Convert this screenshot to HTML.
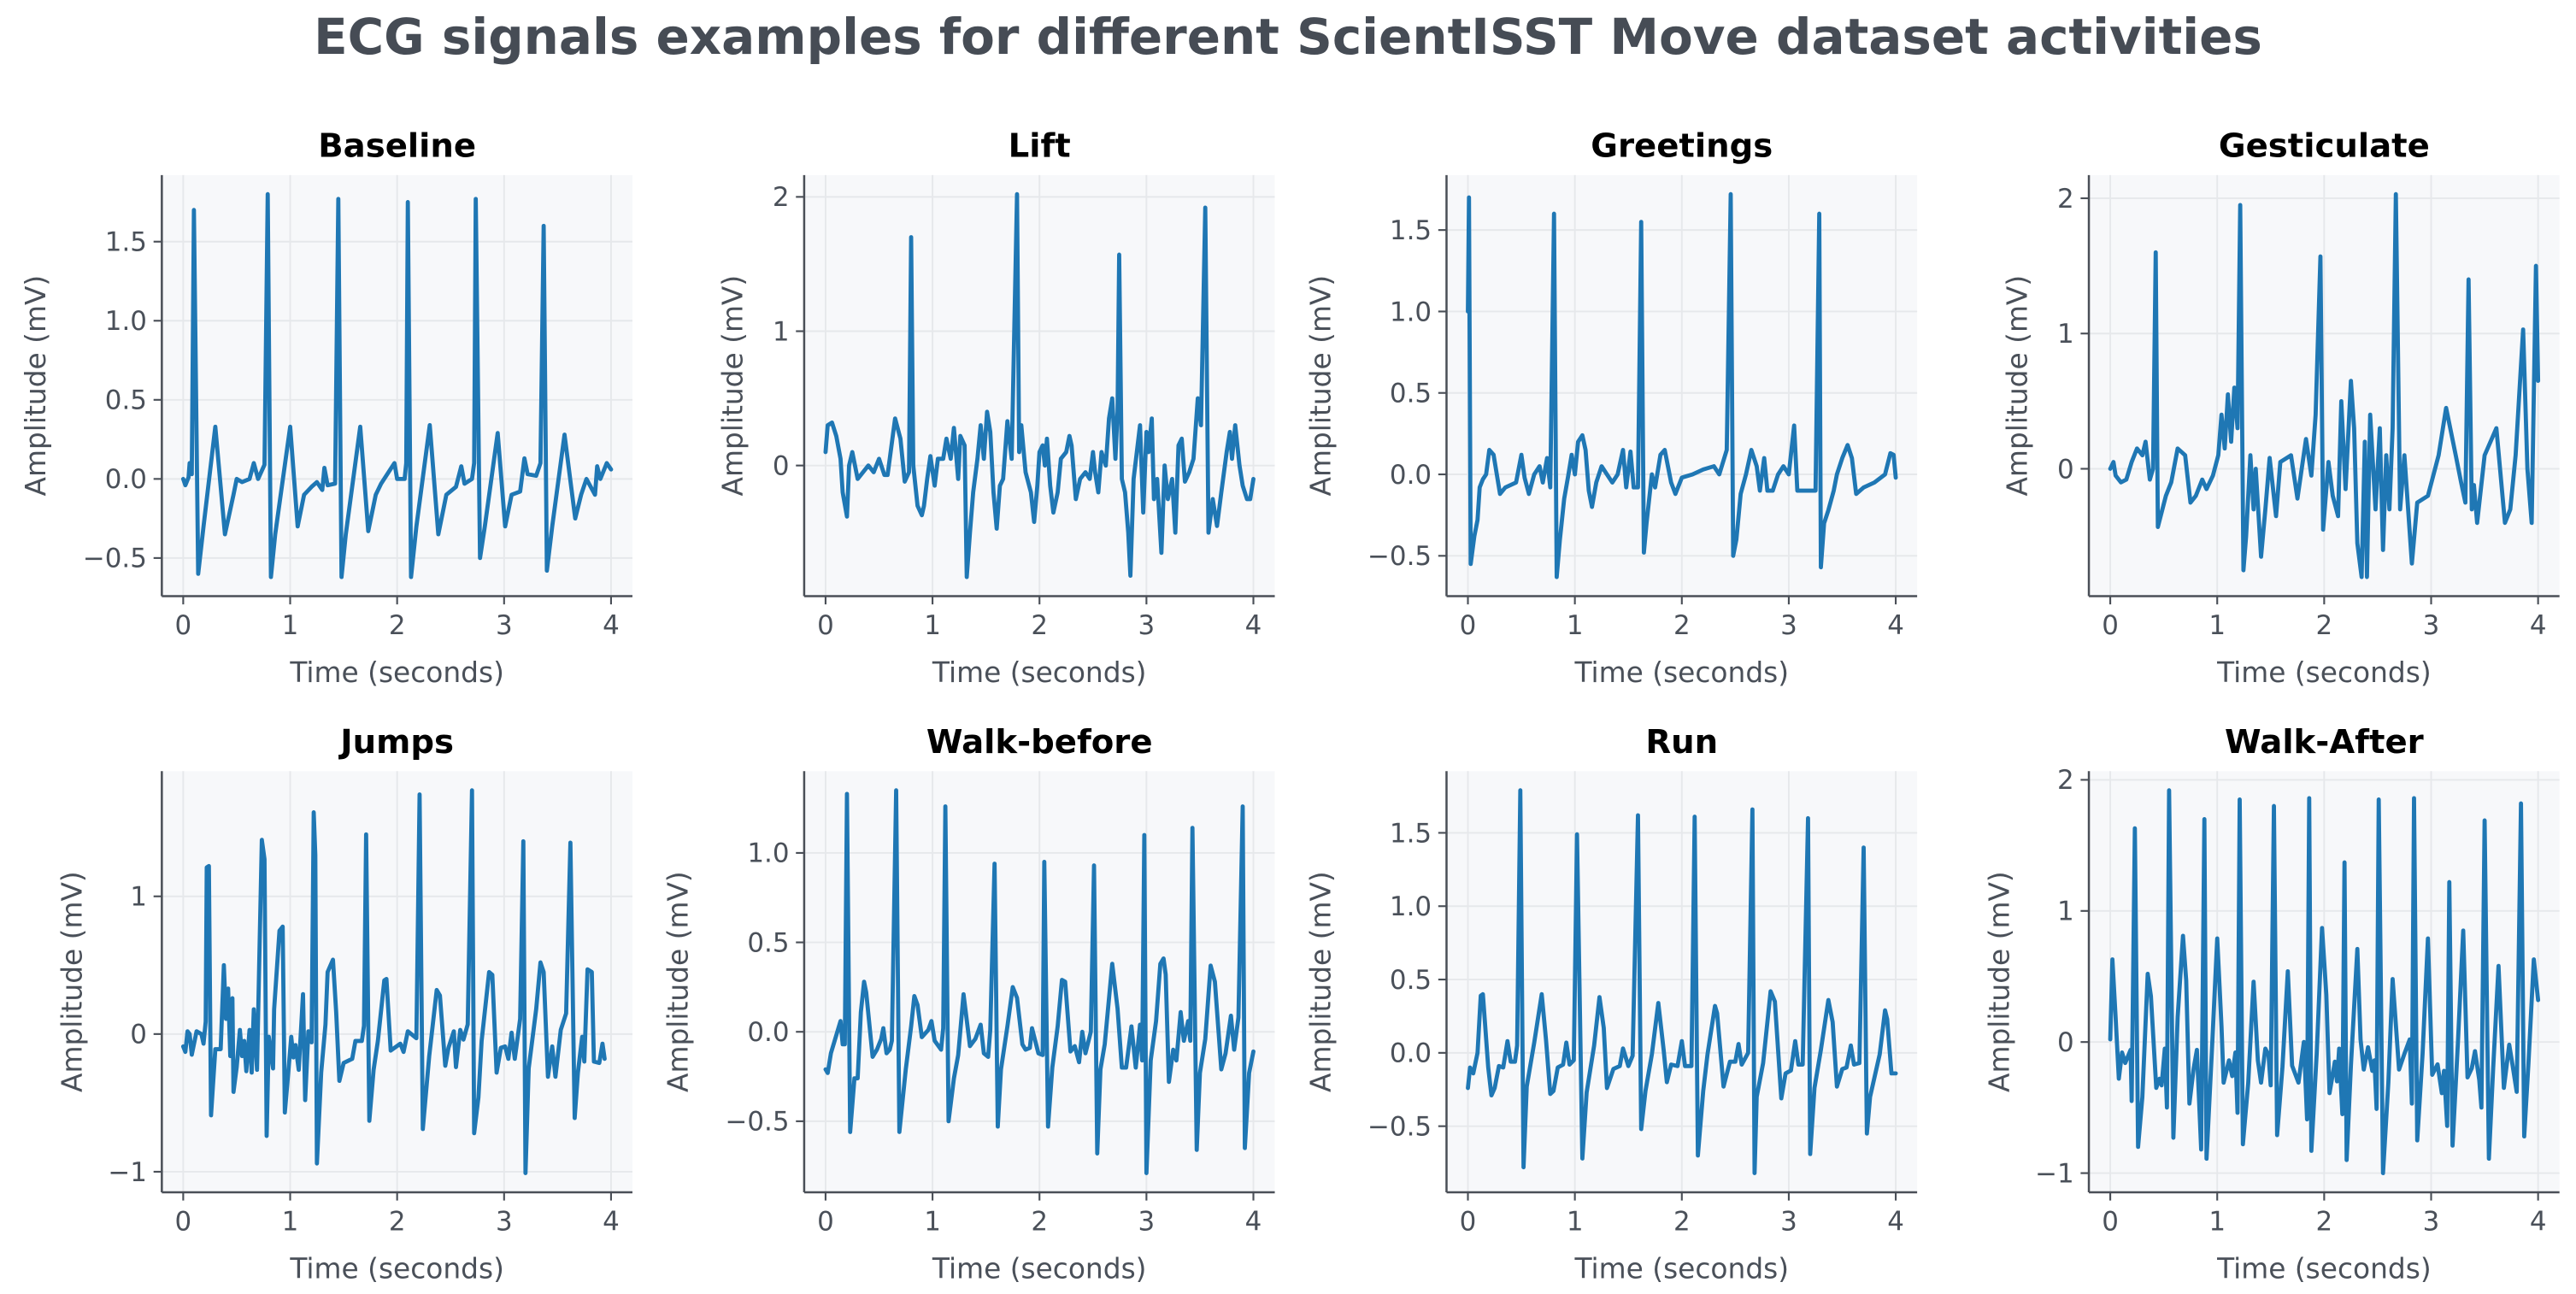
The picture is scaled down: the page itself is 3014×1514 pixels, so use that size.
<!DOCTYPE html>
<html>
<head>
<meta charset="utf-8">
<style>
  html,body{margin:0;padding:0;background:#ffffff;}
  svg{display:block;}
  text{font-family:"DejaVu Sans","Liberation Sans",sans-serif;}
</style>
</head>
<body>
<svg id="fig" xmlns="http://www.w3.org/2000/svg" width="3014" height="1514" viewBox="0 0 1560 783.6">
  <rect x="0" y="0" width="1560" height="783.6" fill="#ffffff"/>
  <text x="780" y="32.5" text-anchor="middle" font-size="30" font-weight="bold" fill="#464c55" textLength="1180" lengthAdjust="spacingAndGlyphs">ECG signals examples for different ScientISST Move dataset activities</text>
  <g id="panels"></g>
</svg>
<script>
// ---------- data ----------
const panelTitles = ["Baseline","Lift","Greetings","Gesticulate","Jumps","Walk-before","Run","Walk-After"];

const xTicks = [0,1,2,3,4];

const baselineTime = [0,0.02,0.05,0.06,0.08,0.10,0.14,0.19,0.30,0.39,0.47,0.50,0.55,0.62,0.66,0.70,0.76,0.79,0.82,0.86,1.00,1.07,1.13,1.20,1.25,1.30,1.32,1.35,1.42,1.45,1.48,1.52,1.655,1.73,1.80,1.85,1.975,2.00,2.07,2.085,2.10,2.13,2.18,2.305,2.385,2.46,2.55,2.60,2.63,2.70,2.72,2.735,2.775,2.82,2.94,3.01,3.07,3.15,3.19,3.22,3.30,3.34,3.37,3.40,3.45,3.565,3.665,3.72,3.77,3.85,3.87,3.90,3.96,4.00];
const baselineMv   = [0,-0.04,0.01,0.1,0.03,1.7,-0.6,-0.3,0.33,-0.35,-0.1,0.0,-0.02,0.0,0.1,0.0,0.09,1.8,-0.62,-0.35,0.33,-0.3,-0.1,-0.05,-0.02,-0.07,0.07,-0.04,-0.03,1.77,-0.62,-0.35,0.33,-0.33,-0.1,-0.03,0.1,0.0,0.0,0.1,1.75,-0.62,-0.3,0.34,-0.35,-0.1,-0.05,0.08,-0.03,0.0,0.1,1.77,-0.5,-0.3,0.29,-0.3,-0.1,-0.08,0.13,0.03,0.02,0.1,1.6,-0.58,-0.3,0.28,-0.25,-0.1,0.0,-0.1,0.08,0.0,0.1,0.06];
const baselineTicks = [-0.5,0,0.5,1,1.5];

const liftTime = [0,0.02,0.06,0.1,0.14,0.16,0.2,0.22,0.25,0.3,0.35,0.4,0.45,0.5,0.55,0.58,0.65,0.7,0.74,0.78,0.8,0.82,0.86,0.9,0.92,0.95,0.98,1.02,1.05,1.1,1.13,1.17,1.2,1.24,1.26,1.3,1.32,1.35,1.38,1.42,1.45,1.48,1.51,1.54,1.57,1.6,1.63,1.66,1.7,1.74,1.79,1.81,1.83,1.87,1.92,1.95,1.98,2.0,2.03,2.05,2.07,2.1,2.13,2.17,2.2,2.25,2.28,2.3,2.34,2.38,2.43,2.47,2.5,2.52,2.55,2.58,2.62,2.65,2.68,2.71,2.73,2.745,2.77,2.8,2.83,2.85,2.88,2.94,2.97,3.0,3.02,3.05,3.07,3.1,3.14,3.17,3.2,3.24,3.27,3.3,3.33,3.36,3.4,3.44,3.48,3.51,3.55,3.58,3.62,3.66,3.7,3.75,3.78,3.8,3.83,3.87,3.9,3.94,3.97,4.0];
const liftMv   = [0.1,0.3,0.32,0.22,0.05,-0.2,-0.38,0.0,0.1,-0.1,-0.05,0.0,-0.05,0.05,-0.07,-0.07,0.35,0.2,-0.12,-0.05,1.7,0.0,-0.3,-0.37,-0.3,-0.1,0.07,-0.15,0.05,0.05,0.2,0.05,0.28,-0.1,0.22,0.15,-0.83,-0.5,-0.2,0.05,0.3,0.05,0.4,0.25,-0.2,-0.47,-0.15,-0.1,0.33,0.05,2.02,0.1,0.3,-0.05,-0.2,-0.42,-0.15,0.1,0.15,0.0,0.2,-0.15,-0.35,-0.2,0.05,0.1,0.22,0.15,-0.25,-0.1,-0.05,-0.1,0.1,-0.05,-0.2,0.1,0.0,0.35,0.5,0.05,0.4,1.57,-0.1,-0.2,-0.5,-0.82,-0.1,0.3,-0.35,0.25,0.1,0.35,-0.25,-0.1,-0.65,0.0,-0.25,-0.1,-0.5,0.15,0.2,-0.12,-0.05,0.05,0.5,0.3,1.92,-0.5,-0.25,-0.45,-0.2,0.1,0.25,0.05,0.3,0.0,-0.15,-0.25,-0.25,-0.1];
const liftTicks = [0,1,2];

const greetingsTime = [0,0.01,0.026,0.06,0.09,0.11,0.14,0.17,0.2,0.24,0.3,0.35,0.45,0.5,0.53,0.57,0.62,0.67,0.7,0.74,0.77,0.805,0.83,0.86,0.9,0.94,0.97,1.0,1.03,1.07,1.1,1.13,1.16,1.2,1.25,1.3,1.35,1.4,1.45,1.48,1.52,1.55,1.59,1.62,1.645,1.67,1.72,1.75,1.8,1.84,1.87,1.9,1.94,2.0,2.1,2.2,2.3,2.35,2.42,2.457,2.48,2.51,2.55,2.6,2.65,2.7,2.73,2.77,2.8,2.85,2.9,2.95,3.0,3.05,3.08,3.25,3.285,3.3,3.33,3.37,3.42,3.45,3.5,3.55,3.59,3.63,3.7,3.8,3.9,3.95,3.98,4.0];
const greetingsMv   = [1.0,1.7,-0.55,-0.38,-0.28,-0.08,-0.03,0.0,0.15,0.12,-0.12,-0.08,-0.05,0.12,-0.02,-0.12,0.0,0.05,-0.05,0.1,-0.08,1.6,-0.63,-0.4,-0.15,0.0,0.12,0.0,0.2,0.24,0.15,-0.1,-0.2,-0.05,0.05,0.0,-0.05,0.0,0.15,-0.08,0.14,-0.08,-0.08,1.55,-0.48,-0.3,0.0,-0.08,0.12,0.15,0.05,-0.05,-0.12,-0.02,0.0,0.03,0.05,0.0,0.15,1.72,-0.5,-0.4,-0.12,0.0,0.15,0.05,-0.1,0.1,-0.1,-0.1,0.0,0.05,0.0,0.3,-0.1,-0.1,1.6,-0.57,-0.3,-0.22,-0.1,0.0,0.1,0.18,0.1,-0.12,-0.08,-0.05,0.0,0.13,0.12,-0.02];
const greetingsTicks = [-0.5,0,0.5,1,1.5];

const gesticulateTime = [0,0.03,0.05,0.1,0.15,0.2,0.25,0.3,0.33,0.37,0.4,0.425,0.445,0.52,0.57,0.63,0.7,0.75,0.8,0.86,0.9,0.96,1.01,1.04,1.07,1.1,1.13,1.16,1.19,1.215,1.245,1.27,1.31,1.34,1.36,1.41,1.45,1.49,1.55,1.59,1.69,1.75,1.83,1.88,1.92,1.965,1.99,2.04,2.08,2.13,2.16,2.2,2.25,2.28,2.31,2.35,2.38,2.4,2.43,2.48,2.52,2.55,2.58,2.61,2.64,2.67,2.71,2.75,2.82,2.87,2.97,3.07,3.14,3.23,3.28,3.32,3.35,3.38,3.40,3.43,3.5,3.61,3.69,3.74,3.79,3.86,3.9,3.94,3.98,4.0];
const gesticulateMv   = [0.0,0.05,-0.05,-0.1,-0.08,0.05,0.15,0.1,0.2,-0.08,0.0,1.6,-0.43,-0.2,-0.1,0.15,0.1,-0.25,-0.2,-0.08,-0.15,-0.05,0.1,0.4,0.15,0.55,0.2,0.6,0.3,1.95,-0.75,-0.5,0.1,-0.3,0.0,-0.65,-0.3,0.08,-0.35,0.05,0.1,-0.22,0.22,-0.05,0.4,1.57,-0.45,0.05,-0.2,-0.35,0.5,-0.15,0.65,0.3,-0.55,-0.8,0.2,-0.8,0.4,-0.3,0.3,-0.6,0.1,-0.3,0.3,2.03,-0.3,0.1,-0.7,-0.25,-0.2,0.1,0.45,0.1,-0.1,-0.25,1.4,-0.3,-0.12,-0.4,0.1,0.3,-0.4,-0.3,0.1,1.03,0.0,-0.4,1.5,0.65];
const gesticulateTicks = [0,1,2];

const jumpsTime = [0,0.02,0.04,0.06,0.08,0.125,0.17,0.19,0.21,0.22,0.24,0.26,0.3,0.35,0.38,0.4,0.42,0.44,0.46,0.47,0.5,0.53,0.55,0.57,0.59,0.62,0.64,0.66,0.69,0.71,0.735,0.76,0.78,0.8,0.84,0.85,0.9,0.93,0.95,0.98,1.01,1.03,1.05,1.08,1.12,1.14,1.17,1.2,1.22,1.235,1.25,1.29,1.33,1.35,1.4,1.43,1.46,1.5,1.58,1.61,1.67,1.69,1.71,1.74,1.78,1.82,1.88,1.9,1.94,2.03,2.06,2.1,2.18,2.21,2.24,2.3,2.37,2.4,2.45,2.48,2.53,2.55,2.59,2.62,2.66,2.7,2.72,2.76,2.79,2.86,2.89,2.93,2.97,3.01,3.04,3.07,3.1,3.15,3.18,3.2,3.23,3.3,3.34,3.37,3.41,3.45,3.48,3.53,3.58,3.62,3.66,3.69,3.73,3.75,3.78,3.82,3.84,3.89,3.92,3.94,4.0];
const jumpsMv   = [-0.09,-0.13,0.02,0.0,-0.15,0.02,0.0,-0.07,0.09,1.21,1.22,-0.59,-0.11,-0.11,0.5,0.11,0.33,-0.16,0.26,-0.42,-0.24,0.03,-0.16,-0.05,-0.27,0.03,-0.28,0.18,-0.26,0.49,1.41,1.27,-0.74,-0.02,-0.25,0.18,0.75,0.78,-0.57,-0.3,-0.02,-0.17,-0.08,-0.26,0.29,-0.48,0.02,-0.06,1.61,1.3,-0.94,-0.28,0.07,0.45,0.54,0.16,-0.34,-0.21,-0.18,-0.05,-0.05,0.06,1.45,-0.63,-0.26,-0.05,0.39,0.4,-0.12,-0.07,-0.13,0.02,-0.03,1.74,-0.69,-0.16,0.32,0.28,-0.23,-0.1,0.02,-0.24,0.03,-0.04,0.07,1.77,-0.72,-0.46,-0.05,0.45,0.43,-0.28,-0.1,-0.09,-0.18,0.01,-0.18,0.11,1.4,-1.01,-0.25,0.18,0.52,0.45,-0.31,-0.09,-0.31,0.03,0.15,1.39,-0.61,-0.28,-0.02,-0.2,0.47,0.45,-0.2,-0.21,-0.07,-0.18];
const jumpsTicks = [-1,0,1];

const walkBeforeTime = [0,0.02,0.05,0.11,0.14,0.16,0.18,0.2,0.23,0.27,0.3,0.33,0.36,0.38,0.44,0.48,0.52,0.54,0.57,0.6,0.62,0.66,0.69,0.75,0.8,0.83,0.86,0.9,0.96,0.99,1.02,1.08,1.1,1.12,1.15,1.2,1.24,1.29,1.35,1.4,1.45,1.48,1.52,1.54,1.58,1.61,1.64,1.7,1.75,1.79,1.84,1.87,1.91,1.93,1.99,2.03,2.045,2.08,2.12,2.17,2.21,2.24,2.29,2.33,2.37,2.4,2.43,2.48,2.51,2.54,2.57,2.61,2.68,2.73,2.77,2.81,2.86,2.9,2.94,2.96,2.98,3.0,3.04,3.09,3.13,3.16,3.18,3.21,3.25,3.28,3.32,3.35,3.39,3.41,3.43,3.47,3.5,3.55,3.6,3.64,3.7,3.74,3.79,3.82,3.86,3.9,3.92,3.96,4.0];
const walkBeforeMv   = [-0.21,-0.23,-0.12,0.0,0.06,-0.07,-0.07,1.33,-0.56,-0.26,-0.26,0.11,0.28,0.22,-0.14,-0.1,-0.04,0.02,-0.12,-0.1,-0.05,1.35,-0.56,-0.21,0.03,0.2,0.15,-0.03,0.01,0.06,-0.05,-0.1,0.02,1.26,-0.5,-0.26,-0.13,0.21,-0.08,-0.04,0.04,-0.12,-0.14,0.01,0.94,-0.53,-0.21,0.03,0.25,0.19,-0.07,-0.1,-0.09,0.02,-0.12,-0.13,0.95,-0.53,-0.2,0.03,0.29,0.28,-0.11,-0.08,-0.17,0.0,-0.12,0.0,0.93,-0.68,-0.21,-0.07,0.38,0.13,-0.2,-0.2,0.03,-0.2,0.04,-0.16,1.1,-0.79,-0.16,0.06,0.38,0.41,0.32,-0.28,-0.1,-0.16,0.11,-0.05,0.06,-0.05,1.14,-0.66,-0.23,-0.04,0.37,0.28,-0.21,-0.12,0.09,-0.1,0.08,1.26,-0.65,-0.23,-0.11];
const walkBeforeTicks = [-0.5,0,0.5,1];

const runTime = [0,0.02,0.05,0.09,0.12,0.14,0.19,0.22,0.25,0.29,0.33,0.37,0.4,0.44,0.46,0.49,0.52,0.55,0.62,0.69,0.73,0.77,0.8,0.84,0.89,0.92,0.95,0.99,1.02,1.07,1.11,1.18,1.23,1.27,1.3,1.36,1.42,1.45,1.5,1.54,1.59,1.62,1.66,1.72,1.78,1.83,1.86,1.9,1.96,2.0,2.03,2.09,2.12,2.15,2.2,2.24,2.31,2.33,2.39,2.45,2.5,2.53,2.56,2.62,2.66,2.68,2.7,2.76,2.83,2.87,2.93,2.97,3.02,3.06,3.09,3.13,3.18,3.2,3.24,3.3,3.37,3.41,3.45,3.5,3.54,3.58,3.61,3.66,3.7,3.73,3.76,3.85,3.9,3.92,3.96,4.0];
const runMv   = [-0.24,-0.1,-0.14,0.0,0.39,0.4,-0.1,-0.29,-0.24,-0.09,-0.1,0.08,-0.06,-0.06,0.05,1.79,-0.78,-0.23,0.07,0.4,0.09,-0.28,-0.26,-0.1,-0.08,0.07,-0.08,-0.05,1.49,-0.72,-0.27,0.05,0.38,0.17,-0.24,-0.11,-0.09,0.03,-0.09,-0.02,1.62,-0.52,-0.26,-0.01,0.34,0.02,-0.2,-0.08,-0.09,0.08,-0.09,-0.09,1.61,-0.7,-0.26,-0.01,0.32,0.27,-0.23,-0.06,-0.06,0.06,-0.08,0.0,1.66,-0.82,-0.3,-0.07,0.42,0.35,-0.31,-0.14,-0.12,0.08,-0.08,-0.08,1.6,-0.69,-0.24,0.02,0.36,0.21,-0.23,-0.11,-0.1,0.05,-0.08,-0.07,1.4,-0.55,-0.3,-0.01,0.29,0.23,-0.14,-0.14];
const runTicks = [-0.5,0,0.5,1,1.5];

const walkAfterTime = [0,0.02,0.05,0.08,0.11,0.14,0.19,0.2,0.23,0.26,0.3,0.35,0.38,0.43,0.46,0.48,0.51,0.53,0.55,0.59,0.63,0.68,0.71,0.74,0.78,0.81,0.85,0.88,0.9,0.95,1.0,1.04,1.06,1.11,1.14,1.17,1.19,1.21,1.24,1.29,1.34,1.38,1.41,1.45,1.48,1.5,1.53,1.56,1.61,1.66,1.7,1.76,1.81,1.84,1.86,1.88,1.93,1.98,2.02,2.05,2.1,2.12,2.14,2.17,2.19,2.21,2.25,2.31,2.34,2.37,2.41,2.45,2.47,2.49,2.51,2.55,2.6,2.64,2.7,2.75,2.8,2.82,2.84,2.87,2.92,2.97,3.01,3.06,3.1,3.12,3.15,3.17,3.2,3.25,3.3,3.34,3.38,3.41,3.45,3.47,3.5,3.54,3.58,3.63,3.68,3.73,3.76,3.8,3.84,3.87,3.91,3.96,4.0];
const walkAfterMv   = [0.02,0.63,0.19,-0.28,-0.08,-0.16,-0.06,-0.45,1.63,-0.8,-0.42,0.52,0.35,-0.35,-0.28,-0.33,-0.05,-0.5,1.92,-0.73,0.19,0.81,0.47,-0.47,-0.2,-0.06,-0.82,1.7,-0.89,-0.07,0.79,0.12,-0.31,-0.14,-0.26,-0.08,-0.54,1.85,-0.78,-0.31,0.46,-0.14,-0.31,-0.05,-0.1,-0.33,1.8,-0.71,-0.19,0.54,-0.18,-0.31,0.0,-0.59,1.86,-0.83,-0.09,0.87,0.36,-0.39,-0.15,-0.3,-0.05,-0.55,1.37,-0.9,-0.18,0.71,0.02,-0.21,-0.04,-0.22,-0.14,-0.51,1.85,-1.0,-0.31,0.48,-0.21,-0.09,0.02,-0.47,1.86,-0.75,-0.09,0.79,-0.25,-0.17,-0.39,-0.22,-0.64,1.22,-0.79,-0.01,0.85,-0.27,-0.2,-0.07,-0.29,-0.5,1.69,-0.89,-0.2,0.58,-0.35,-0.02,-0.17,-0.38,1.82,-0.72,-0.16,0.63,0.32];
const walkAfterTicks = [-1,0,1,2];

// ---------- layout ----------
const NS = "http://www.w3.org/2000/svg";
const colLeft = [98, 487, 876, 1265];
const rowTop = [106, 467];
const AW = 285, AH = 255;
const series = [
  [baselineTime, baselineMv, baselineTicks],
  [liftTime, liftMv, liftTicks],
  [greetingsTime, greetingsMv, greetingsTicks],
  [gesticulateTime, gesticulateMv, gesticulateTicks],
  [jumpsTime, jumpsMv, jumpsTicks],
  [walkBeforeTime, walkBeforeMv, walkBeforeTicks],
  [runTime, runMv, runTicks],
  [walkAfterTime, walkAfterMv, walkAfterTicks]
];

function mk(tag, attrs, parent){
  const e = document.createElementNS(NS, tag);
  for (const k in attrs) e.setAttribute(k, attrs[k]);
  parent.appendChild(e);
  return e;
}
function fmt(v, dec){
  const s = dec ? Math.abs(v).toFixed(1) : String(Math.abs(v));
  return (v < 0 ? "\u2212" : "") + s;
}

const root = document.getElementById("panels");
const slugs = ["baseline","lift","greetings","gesticulate","jumps","walk-before","run","walk-after"];

series.forEach((s, i) => {
  const [T, V, ticks] = s;
  const L = colLeft[i % 4], Tp = rowTop[Math.floor(i / 4)];
  const xmin = Math.min(...T), xmax = Math.max(...T);
  const xpad = (xmax - xmin) * 0.05;
  const x0 = xmin - xpad, x1 = xmax + xpad;
  const ymin = Math.min(...V), ymax = Math.max(...V);
  const ypad = (ymax - ymin) * 0.05;
  const y0 = ymin - ypad, y1 = ymax + ypad;
  const sx = t => L + (t - x0) / (x1 - x0) * AW;
  const sy = v => Tp + AH - (v - y0) / (y1 - y0) * AH;

  const g = mk("g", {}, root);
  
  

  const bg = mk("rect", {x:L, y:Tp, width:AW, height:AH, fill:"#f7f8fa"}, g);
  
  

  xTicks.forEach(t => {
    const ln = mk("line", {x1:sx(t), x2:sx(t), y1:Tp, y2:Tp+AH, stroke:"#e6e8eb", "stroke-width":1}, g);
    
    
  });
  ticks.forEach(v => {
    const ln = mk("line", {x1:L, x2:L+AW, y1:sy(v), y2:sy(v), stroke:"#e6e8eb", "stroke-width":1}, g);
    
    
  });

  let d = "";
  T.forEach((t, k) => { d += (k ? "L" : "M") + sx(t).toFixed(2) + " " + sy(V[k]).toFixed(2); });
  const path = mk("path", {d:d, fill:"none", stroke:"#1f77b4", "stroke-width":2.5, "stroke-linejoin":"round", "stroke-linecap":"round"}, g);
  
  

  const sp1 = mk("line", {x1:L, x2:L, y1:Tp, y2:Tp+AH, stroke:"#4a4f57", "stroke-width":1.3}, g);
  
  
  const sp2 = mk("line", {x1:L, x2:L+AW, y1:Tp+AH, y2:Tp+AH, stroke:"#4a4f57", "stroke-width":1.3}, g);
  
  

  xTicks.forEach(t => {
    const tk = mk("line", {x1:sx(t), x2:sx(t), y1:Tp+AH, y2:Tp+AH+5, stroke:"#4a4f57", "stroke-width":1.1}, g);
    
    
    const tl = mk("text", {x:sx(t), y:Tp+AH+23, "text-anchor":"middle", "font-size":16, fill:"#4a5059"}, g);
    tl.textContent = String(t);
    
    
  });

  const dec = ticks.some(v => Math.round(v) !== v);
  let maxLen = 0;
  ticks.forEach(v => {
    const tk = mk("line", {x1:L-5, x2:L, y1:sy(v), y2:sy(v), stroke:"#4a4f57", "stroke-width":1.1}, g);
    
    
    const label = fmt(v, dec);
    maxLen = Math.max(maxLen, label.length);
    const tl = mk("text", {x:L-9, y:sy(v)+5.6, "text-anchor":"end", "font-size":16, fill:"#4a5059"}, g);
    tl.textContent = label;
    
    
  });

  const xl = mk("text", {x:L+AW/2, y:Tp+AH+52, "text-anchor":"middle", "font-size":17, fill:"#4a5059"}, g);
  xl.textContent = "Time (seconds)";
  
  

  const lx = L - (32 + 11 * maxLen);
  const yl = mk("text", {x:lx, y:Tp+AH/2, "text-anchor":"middle", "font-size":17, fill:"#4a5059", transform:"rotate(-90 " + lx + " " + (Tp+AH/2) + ")", dy:"5.5"}, g);
  yl.textContent = "Amplitude (mV)";
  
  

  const pt = mk("text", {x:L+AW/2, y:Tp-11, "text-anchor":"middle", "font-size":20, "font-weight":"bold", fill:"#000000"}, g);
  pt.textContent = panelTitles[i];
  
  
});
</script>
</body>
</html>
